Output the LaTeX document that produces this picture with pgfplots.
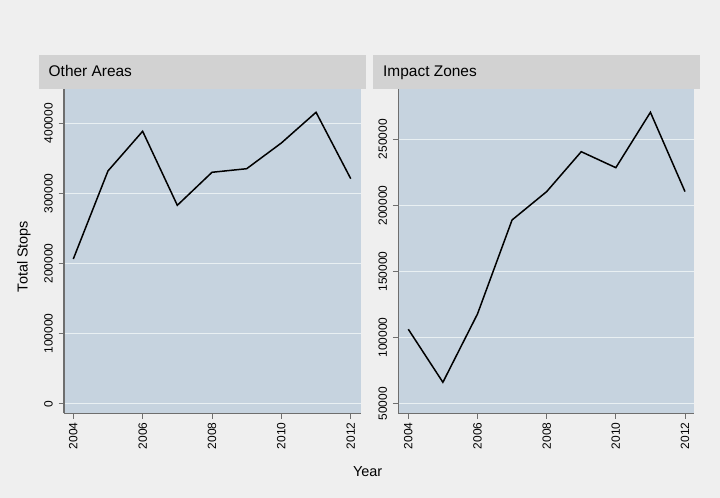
\documentclass[border=0pt]{standalone}
\usepackage{fontspec}
\setmainfont{Liberation Sans}
\usepackage{pgfplots}
\pgfplotsset{compat=1.18}
\definecolor{bgc}{RGB}{239,239,239}
\definecolor{plotbg}{RGB}{198,211,223}
\definecolor{hdr}{RGB}{210,210,210}
\definecolor{gridc}{RGB}{233,240,243}
\definecolor{axln}{RGB}{110,110,110}

\pgfplotstableread{
year val
2004 206400
2005 332000
2006 388600
2007 283000
2008 330100
2009 335200
2010 371900
2011 415700
2012 321000
}\otherareas
\pgfplotstableread{
year val
2004 106300
2005 66200
2006 117850
2007 188960
2008 210400
2009 240600
2010 228500
2011 270400
2012 210400
}\impactzones

\pgfplotsset{
  panel/.style={
    scale only axis,
    anchor=south west,
    height=324bp,
    axis background/.style={fill=plotbg},
    axis x line*=bottom,
    axis y line*=left,
    axis line style={-, draw=axln, line width=1.1bp},
    tick style={draw=axln, line width=0.8bp},
    tick align=outside,
    major tick length=5.5bp,
    xtick={2004,2006,2008,2010,2012},
    xticklabels={2004,2006,2008,2010,2012},
    ymajorgrids,
    grid style={draw=gridc, line width=1bp},
    scaled y ticks=false,
    tick label style={font=\fontsize{12}{14}\selectfont, text=black},
    xticklabel style={rotate=90, anchor=east, inner sep=3.5bp},
    yticklabel style={rotate=90, anchor=south, inner sep=5.5bp},
    clip=false,
  }
}

\begin{document}
\begin{tikzpicture}[x=1bp,y=1bp]
\fill[bgc] (0,0) rectangle (720,498);
\fill[hdr] (39,408.7) rectangle (366,443);
\fill[hdr] (373,408.7) rectangle (700,443);
\node[anchor=base west, inner sep=0, font=\fontsize{15.5}{18}\selectfont] at (48.5,421) {Other Areas};
\node[anchor=base west, inner sep=0, font=\fontsize{15.5}{18}\selectfont] at (383,421) {Impact Zones};
\node[rotate=90, font=\fontsize{14.5}{17}\selectfont] at (24,241.5) {Total Stops};
\node[font=\fontsize{14.5}{17}\selectfont] at (367.7,26.3) {Year};

\begin{axis}[panel, at={(64bp,84.7bp)}, width=296.7bp,
  xmin=2003.732, xmax=2012.288, ymin=-13700, ymax=448500,
  ytick={0,100000,200000,300000,400000},
  yticklabels={0,100000,200000,300000,400000}]
\addplot[black, line width=1.5bp] table[x=year, y=val] {\otherareas};
\end{axis}

\begin{axis}[panel, at={(398.3bp,84.7bp)}, width=296bp,
  xmin=2003.711, xmax=2012.269, ymin=42740, ymax=287800,
  ytick={50000,100000,150000,200000,250000},
  yticklabels={50000,100000,150000,200000,250000}]
\addplot[black, line width=1.5bp] table[x=year, y=val] {\impactzones};
\end{axis}
\end{tikzpicture}
\end{document}
